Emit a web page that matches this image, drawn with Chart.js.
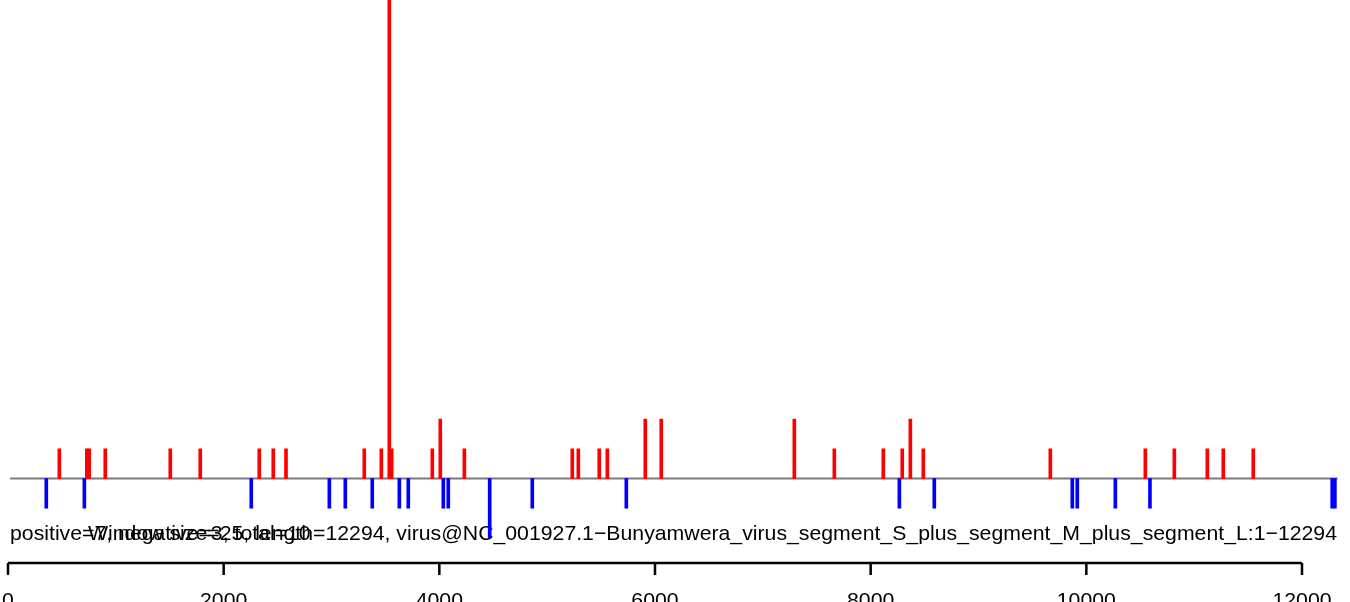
<!DOCTYPE html>
<html>
<head>
<meta charset="utf-8">
<script src="https://cdn.jsdelivr.net/npm/chart.js@4/dist/chart.umd.min.js"></script>
<style>
  html, body { margin: 0; padding: 0; background: #ffffff; }
  #wrap { width: 1350px; height: 602px; }
</style>
</head>
<body>
<div id="wrap"><canvas id="window-chart" width="1350" height="602"></canvas></div>
<script>
// window start positions and counts on the plus strand (drawn upward)
const positivePos = [476, 731, 753, 902, 1505, 1783, 2330, 2460, 2578, 3304, 3462, 3536, 3558,
  3935, 4009, 4232, 5233, 5289, 5483, 5558, 5910, 6058, 7292, 7663, 8117, 8293, 8368, 8488,
  9666, 10547, 10816, 11122, 11270, 11548];
const positiveVal = [1, 1, 1, 1, 1, 1, 1, 1, 1, 1, 1, 17, 1,
  1, 2, 1, 1, 1, 1, 1, 2, 2, 2, 1, 1, 1, 2, 1,
  1, 1, 1, 1, 1, 1];

// windows on the minus strand (drawn downward)
const negativePos = [355, 708, 2256, 2980, 3128, 3378, 3629, 3712, 4037, 4083, 4467, 4862, 5734,
  8266, 8590, 9870, 9916, 10269, 10590, 12280, 12305];
const negativeVal = [-1, -1, -1, -1, -1, -1, -1, -1, -1, -1, -2, -1, -1,
  -1, -1, -1, -1, -1, -1, -1, -1];

const baselineRange = [20, 12330];
const axisTicks = [0, 2000, 4000, 6000, 8000, 10000, 12000];

const countLabel = 'positive=7, negative=3, total=10';
const titleLabel = 'Window size=25, length=12294, virus@NC_001927.1\u2212Bunyamwera_virus_segment_S_plus_segment_M_plus_segment_L:1\u221212294';

const toPoints = (xs, ys) => xs.map((x, i) => ({ x: x, y: ys[i] }));

const FONT = '21px "Liberation Sans", Arial, sans-serif';

// text under the strip plus an R-style position axis
const decorations = {
  id: 'decorations',
  beforeDatasetsDraw(chart) {
    const ctx = chart.ctx;
    ctx.save();
    ctx.font = FONT;
    ctx.fillStyle = '#000';
    ctx.textBaseline = 'alphabetic';
    const w = ctx.measureText(titleLabel).width;
    const sx = 1249 / w;
    ctx.save();
    ctx.translate(712.5, 540);
    ctx.scale(sx, 1);
    ctx.textAlign = 'center';
    ctx.fillText(titleLabel, 0, 0);
    ctx.restore();
    ctx.save();
    ctx.translate(10, 540);
    ctx.scale(sx, 1);
    ctx.textAlign = 'left';
    ctx.fillText(countLabel, 0, 0);
    ctx.restore();
    ctx.restore();
  },
  afterDraw(chart) {
    const ctx = chart.ctx;
    const xs = chart.scales.x;
    const first = xs.getPixelForValue(axisTicks[0]);
    const last = xs.getPixelForValue(axisTicks[axisTicks.length - 1]);
    ctx.save();
    ctx.strokeStyle = '#000';
    ctx.lineWidth = 2.5;
    ctx.beginPath();
    ctx.moveTo(first, 563);
    ctx.lineTo(last, 563);
    axisTicks.forEach(t => {
      const px = xs.getPixelForValue(t);
      ctx.moveTo(px, 563);
      ctx.lineTo(px, 575);
    });
    ctx.stroke();

    ctx.font = FONT;
    ctx.fillStyle = '#000';
    ctx.textAlign = 'center';
    ctx.textBaseline = 'alphabetic';
    const sx = 1249 / ctx.measureText(titleLabel).width;
    axisTicks.forEach(t => {
      ctx.save();
      ctx.translate(xs.getPixelForValue(t), 607);
      ctx.scale(sx, 1);
      ctx.fillText(String(t), 0, 0);
      ctx.restore();
    });
    ctx.restore();
  }
};

new Chart(document.getElementById('window-chart').getContext('2d'), {
  type: 'bar',
  data: {
    datasets: [
      {
        type: 'line',
        data: baselineRange.map(x => ({ x: x, y: 0 })),
        borderColor: '#7a7a7a',
        borderWidth: 2,
        pointRadius: 0,
        order: 3
      },
      {
        data: toPoints(positivePos, positiveVal),
        backgroundColor: '#ff0000',
        borderWidth: 0,
        barThickness: 3,
        grouped: false,
        order: 1
      },
      {
        data: toPoints(negativePos, negativeVal),
        backgroundColor: '#0000ff',
        borderWidth: 0,
        barThickness: 3,
        grouped: false,
        order: 2
      }
    ]
  },
  options: {
    responsive: false,
    animation: false,
    devicePixelRatio: 1,
    layout: { padding: 0 },
    plugins: {
      legend: { display: false },
      tooltip: { enabled: false },
      title: { display: false }
    },
    scales: {
      x: {
        type: 'linear',
        display: false,
        offset: false,
        min: -74.2,
        max: 12445.1
      },
      y: {
        display: false,
        min: -4.158,
        max: 16.111
      }
    }
  },
  plugins: [decorations]
});
</script>
</body>
</html>
